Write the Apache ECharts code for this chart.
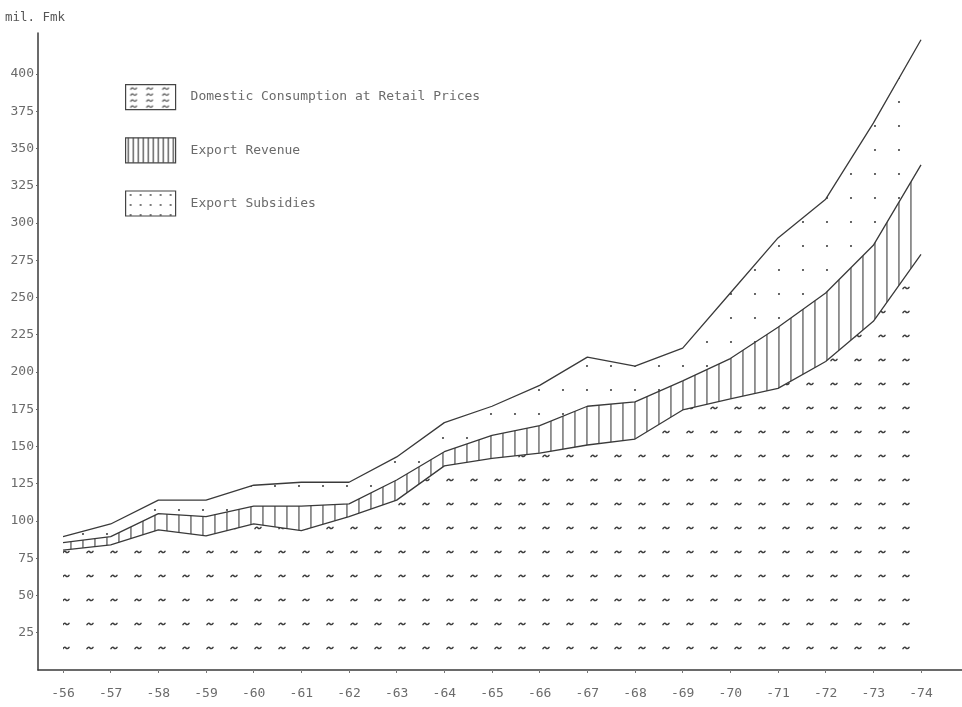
<!DOCTYPE html>
<html>
<head>
<meta charset="utf-8">
<script src="https://cdn.jsdelivr.net/npm/echarts@6/dist/echarts.min.js"></script>
<style>
  html, body { margin: 0; padding: 0; background: #ffffff; }
  #chart { width: 962px; height: 707px; }
</style>
</head>
<body>
<div id="chart"></div>
<script>
// Years on the horizontal axis and their printed labels
const years = [1956, 1957, 1958, 1959, 1960, 1961, 1962, 1963, 1964, 1965,
               1966, 1967, 1968, 1969, 1970, 1971, 1972, 1973, 1974];
const yearLabels = ['-56', '-57', '-58', '-59', '-60', '-61', '-62', '-63', '-64', '-65',
                    '-66', '-67', '-68', '-69', '-70', '-71', '-72', '-73', '-74'];

// Stacked components, mil. Fmk
const domesticConsumption = [80.5, 84, 94, 90, 98, 93.5, 103, 114, 137, 142,
                             145.5, 151, 155, 174.5, 182, 189, 207, 234, 279];
const exportRevenue = [5, 5.5, 11, 13, 12, 16.5, 8.5, 13.5, 9.5, 15.5,
                       18.5, 26, 25, 19.5, 27, 41, 46, 51, 60];
const exportSubsidies = [4, 8.5, 9, 11, 14, 16, 14.5, 15.5, 19.5, 19.5,
                         27, 33, 24, 22, 44, 60, 63, 82, 84];

const yTicks = [25, 50, 75, 100, 125, 150, 175, 200, 225, 250, 275, 300, 325, 350, 375, 400];

const INK = '#3a3a3a';
const TEXT = '#6b6b6b';
const FONT = 'DejaVu Sans Mono';

function tile(w, h, draw) {
  const c = document.createElement('canvas');
  c.width = w; c.height = h;
  const ctx = c.getContext('2d');
  ctx.strokeStyle = '#3c3c3c';
  ctx.fillStyle = '#404040';
  ctx.lineCap = 'round';
  draw(ctx);
  return { image: c, repeat: 'repeat' };
}

// small plotter-style tilde
function tilde(ctx, cx, cy, lw) {
  ctx.beginPath();
  ctx.moveTo(cx - 3, cy + 0.6);
  ctx.bezierCurveTo(cx - 1.8, cy - 1.1, cx - 0.6, cy - 0.8, cx, cy);
  ctx.bezierCurveTo(cx + 0.6, cy + 0.8, cx + 1.8, cy + 0.9, cx + 3, cy - 0.6);
  ctx.lineWidth = lw;
  ctx.stroke();
}

// Area fills
const wavyFill = tile(24, 24, ctx => { tilde(ctx, 18, 0, 1.5); tilde(ctx, 18, 24, 1.5); });
const hatchFill = tile(12, 4, ctx => { ctx.fillRect(10.4, 0, 1.1, 4); });
const dotFill = tile(24, 24, ctx => { ctx.beginPath(); ctx.arc(11, 6, 1.05, 0, Math.PI * 2); ctx.fill(); });

// Denser fills for the key boxes
const wavyKey = tile(16, 12, ctx => { tilde(ctx, 8, 4, 1.1); tilde(ctx, 8, 10, 1.1); });
const hatchKey = tile(5, 4, ctx => { ctx.fillRect(2, 0, 1.2, 4); });
const dotKey = tile(10, 10, ctx => { ctx.beginPath(); ctx.arc(5, 4, 0.9, 0, Math.PI * 2); ctx.fill(); });

// rows are [value, year] so the value dimension is the stacked one
const rows = arr => years.map((y, i) => [arr[i], y]);

function layer(name, values, fill) {
  return {
    name: name,
    type: 'line',
    stack: 'total',
    data: rows(values),
    encode: { x: 1, y: 0 },
    symbol: 'none',
    silent: true,
    lineStyle: { color: INK, width: 1.3 },
    itemStyle: { color: INK },
    areaStyle: { color: fill, opacity: 1 }
  };
}

const keyBorder = { borderColor: '#444', borderWidth: 1.2 };

const chart = echarts.init(document.getElementById('chart'), null, { renderer: 'canvas' });
chart.setOption({
  backgroundColor: '#ffffff',
  animation: false,
  grid: { left: 38, right: 0, top: 33, bottom: 37, containLabel: false },
  legend: {
    orient: 'vertical',
    left: 125,
    top: 84,
    padding: 0,
    icon: 'rect',
    itemWidth: 50,
    itemHeight: 25,
    itemGap: 27,
    selectedMode: false,
    textStyle: { color: TEXT, fontFamily: FONT, fontSize: 13, padding: [0, 0, 0, 10] },
    data: [
      { name: 'Domestic Consumption at Retail Prices', itemStyle: Object.assign({ color: wavyKey }, keyBorder),
        textStyle: { padding: [9, 0, 0, 10] } },
      { name: 'Export Revenue', itemStyle: Object.assign({ color: hatchKey }, keyBorder) },
      { name: 'Export Subsidies', itemStyle: Object.assign({ color: dotKey }, keyBorder),
        textStyle: { padding: [0, 0, 4, 10] } }
    ]
  },
  xAxis: {
    type: 'value',
    min: 1955.475,
    max: 1974.86,
    splitLine: { show: false },
    axisLine: { lineStyle: { color: INK, width: 1.5 } },
    axisTick: { customValues: years, length: 3, lineStyle: { color: '#777' } },
    axisLabel: {
      customValues: years,
      formatter: v => yearLabels[years.indexOf(Math.round(v))],
      color: TEXT, fontFamily: FONT, fontSize: 13, margin: 17
    }
  },
  yAxis: {
    type: 'value',
    min: 0,
    max: 427.5,
    name: 'mil. Fmk',
    nameLocation: 'end',
    nameGap: 9,
    nameTextStyle: { color: '#555', fontFamily: FONT, fontSize: 12.5, align: 'center', padding: [0, 6, 0, 0] },
    splitLine: { show: false },
    axisLine: { lineStyle: { color: INK, width: 1.5 } },
    axisTick: { customValues: yTicks, length: 2, lineStyle: { color: '#666' } },
    axisLabel: {
      customValues: yTicks,
      color: TEXT, fontFamily: FONT, fontSize: 13, margin: 4
    }
  },
  series: [
    layer('Domestic Consumption at Retail Prices', domesticConsumption, wavyFill),
    layer('Export Revenue', exportRevenue, hatchFill),
    layer('Export Subsidies', exportSubsidies, dotFill)
  ]
});
</script>
</body>
</html>
